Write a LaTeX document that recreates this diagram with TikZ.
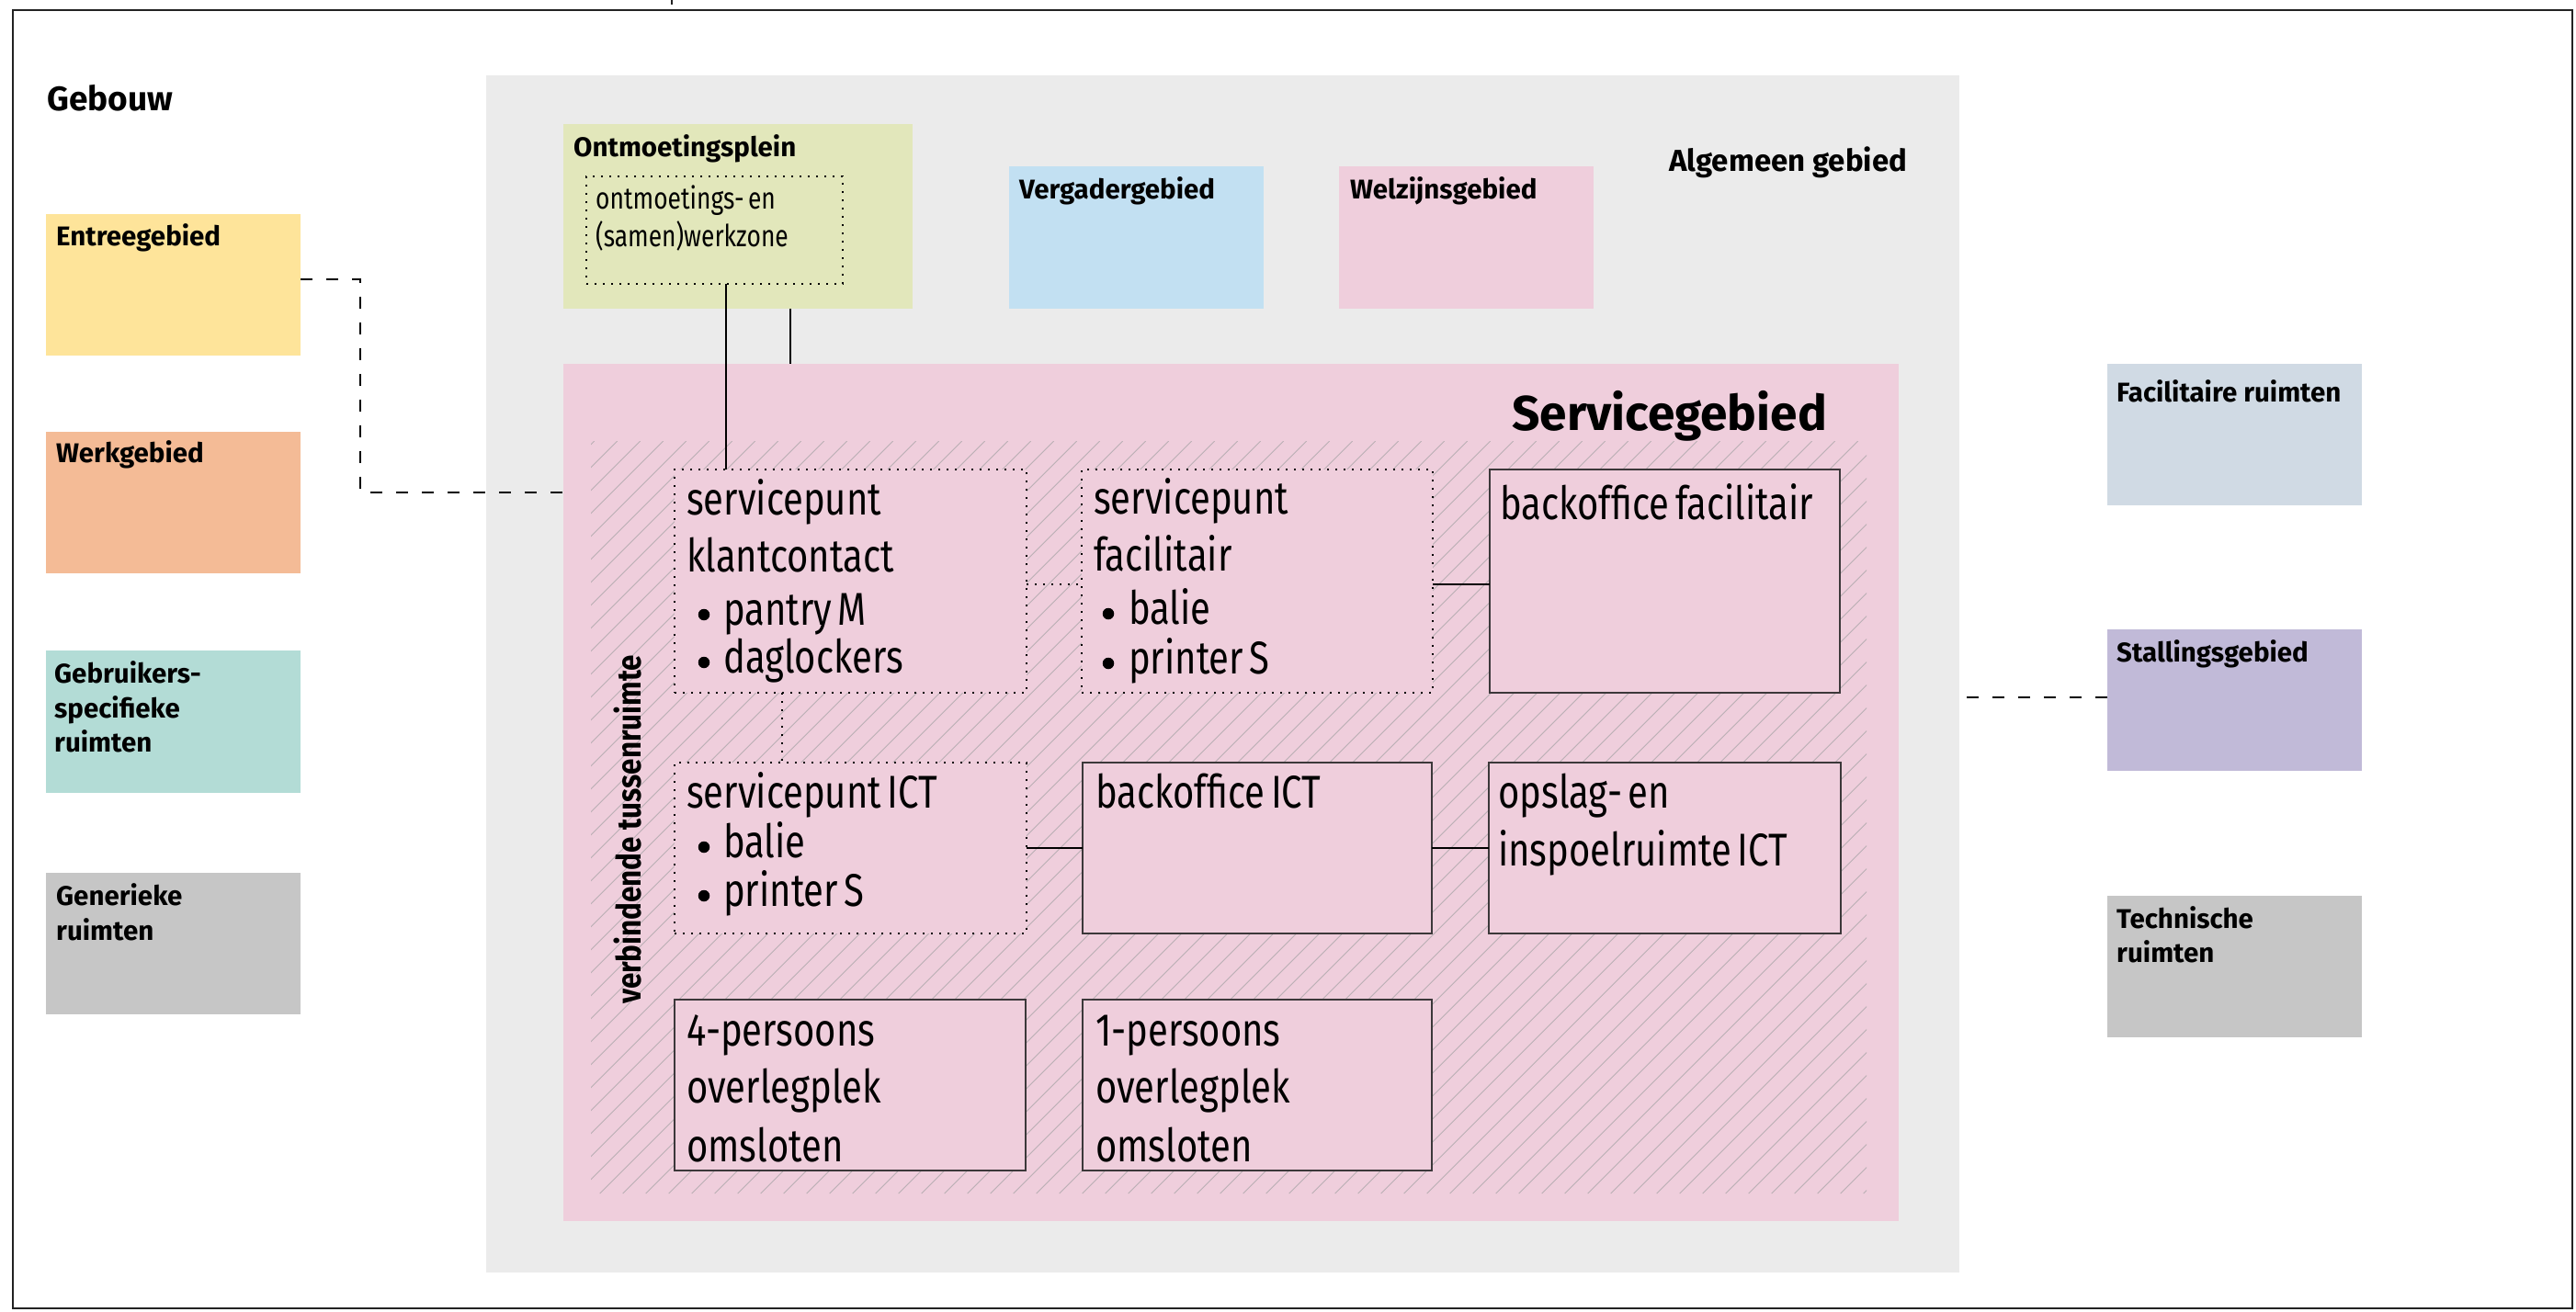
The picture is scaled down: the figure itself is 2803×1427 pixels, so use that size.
\documentclass[tikz,border=0pt]{standalone}
\usepackage{fontspec}
\setmainfont{Fira Sans}
\newfontfamily\lt{Fira Sans}[FakeStretch=0.80, WordSpace=0.62]
\newfontfamily\bc{Fira Sans Bold}[FakeStretch=0.86]
\definecolor{framec}{RGB}{34,34,34}
\definecolor{grayarea}{RGB}{235,235,235}
\definecolor{pinkc}{RGB}{239,206,220}
\definecolor{pleinc}{RGB}{226,231,187}
\definecolor{vergc}{RGB}{194,224,242}
\definecolor{entreec}{RGB}{254,228,154}
\definecolor{werkc}{RGB}{244,187,150}
\definecolor{gebrc}{RGB}{179,220,214}
\definecolor{generc}{RGB}{198,198,198}
\definecolor{facrc}{RGB}{208,218,228}
\definecolor{stallc}{RGB}{193,186,216}
\definecolor{boxline}{RGB}{60,56,58}
\definecolor{hatchc}{RGB}{186,174,180}
\begin{document}
\begin{tikzpicture}[x=1pt,y=-1pt,
  area/.style={inner sep=0pt, outer sep=0pt, anchor=north west, draw=none},
  room/.style={area, draw=boxline, line width=1.6pt, fill=pinkc},
  dotroom/.style={area, draw=black, line width=2.4pt, dash pattern=on 2.4pt off 6.6pt},
  conn/.style={line width=2pt, draw=black},
  dotconn/.style={line width=2.4pt, draw=black, dash pattern=on 2.4pt off 6.6pt},
  dashconn/.style={line width=2.4pt, draw=black, dash pattern=on 13pt off 15pt},
  lab/.style={anchor=base west, inner sep=0pt, font=\fontsize{29.5}{35}\selectfont\bfseries},
  big/.style={anchor=base west, inner sep=0pt, font=\fontsize{50}{60}\selectfont\lt},
  small/.style={anchor=base west, inner sep=0pt, font=\fontsize{33}{40}\selectfont\lt},
  bul/.style={circle, fill=black, inner sep=0pt, minimum size=12.5pt},
  hatchline/.style={line width=1pt, draw=hatchc}]
\useasboundingbox (0,0) rectangle (2803,1427);
\fill[white] (0,0) rectangle (2803,1427);
% outer frame
\node[area, draw=framec, line width=2.6pt, minimum width=2785pt, minimum height=1413pt] (gebouw) at (14,11) {};
\draw[line width=1.5pt, draw=framec] (731,0) -- (731,5);
% left column
\node[area, fill=entreec, minimum width=277pt, minimum height=154pt] (entree) at (50,233) {};
\node[area, fill=werkc, minimum width=277pt, minimum height=154pt] (werk) at (50,470) {};
\node[area, fill=gebrc, minimum width=277pt, minimum height=155pt] (gebr) at (50,708) {};
\node[area, fill=generc, minimum width=277pt, minimum height=154pt] (gener) at (50,950) {};
% right column
\node[area, fill=facrc, minimum width=277pt, minimum height=154pt] (facr) at (2293,396) {};
\node[area, fill=stallc, minimum width=277pt, minimum height=154pt] (stall) at (2293,685) {};
\node[area, fill=generc, minimum width=277pt, minimum height=154pt] (tech) at (2293,975) {};
% general area
\node[area, fill=grayarea, minimum width=1603pt, minimum height=1303pt] (alg) at (529,82) {};
\node[area, fill=pleinc, minimum width=380pt, minimum height=201pt] (plein) at (613,135) {};
\node[dotroom, minimum width=279pt, minimum height=117pt] (ozone) at (638,192) {};
\node[area, fill=vergc, minimum width=277pt, minimum height=155pt] (verg) at (1098,181) {};
\node[area, fill=pinkc, minimum width=277pt, minimum height=155pt] (welz) at (1457,181) {};
% service area
\node[area, fill=pinkc, minimum width=1453pt, minimum height=933pt] (serv) at (613,396) {};
\begin{scope}
\clip (643,480) rectangle (2031,1299);
\foreach \k in {0,...,90} \draw[hatchline] ({-197.3+\k*25},1299) -- ++(819,-819);
\end{scope}
\node[dotroom, fill=pinkc, minimum width=383pt, minimum height=243pt] (kc) at (734,511) {};
\node[dotroom, fill=pinkc, minimum width=382pt, minimum height=243pt] (fac) at (1177,511) {};
\node[room, minimum width=381pt, minimum height=243pt] (bof) at (1621,511) {};
\node[dotroom, fill=pinkc, minimum width=383pt, minimum height=186pt] (ict) at (734,830) {};
\node[room, minimum width=380pt, minimum height=186pt] (boict) at (1178,830) {};
\node[room, minimum width=383pt, minimum height=186pt] (ops) at (1620,830) {};
\node[room, minimum width=382pt, minimum height=186pt] (pfour) at (734,1088) {};
\node[room, minimum width=380pt, minimum height=186pt] (pone) at (1178,1088) {};
% connectors
\draw[conn] ([xshift=12.5pt]ozone.south) -- ([xshift=12.5pt]ozone.south |- kc.north);
\draw[conn] ([xshift=57pt]plein.south) -- ([xshift=57pt]plein.south |- serv.north);
\draw[dotconn] ([yshift=-3.5pt]kc.east) -- ([yshift=-3.5pt]kc.east -| fac.west);
\draw[conn] ([yshift=-3.5pt]fac.east) -- ([yshift=-3.5pt]fac.east -| bof.west);
\draw[dotconn] ([xshift=-74.5pt]kc.south) -- ([xshift=-74.5pt]kc.south |- ict.north);
\draw[conn] (ict.east) -- (boict.west);
\draw[conn] (boict.east) -- (ops.west);
\draw[dashconn] ([yshift=6pt]entree.east) -- ++(65,0) |- ([yshift=326.5pt]serv.west);
\draw[dashconn] ([yshift=3pt]stall.west) -- ([yshift=3pt]stall.west -| alg.east);
% labels
\node[lab, font=\fontsize{37}{40}\selectfont\bfseries] (tgebouw) at (51,120) {Gebouw};
\node[lab] (tentree) at (61,267) {Entreegebied};
\node[lab] (twerk) at (61,503) {Werkgebied};
\node[lab] (tgebr1) at (59,743) {Gebruikers-};
\node[lab] (tgebr2) at (59,781) {specifieke};
\node[lab] (tgebr3) at (59,818) {ruimten};
\node[lab] (tgener1) at (61,985) {Generieke};
\node[lab] (tgener2) at (61,1023) {ruimten};
\node[lab] (tfacr) at (2303,437) {Facilitaire ruimten};
\node[lab] (tstall) at (2303,720) {Stallingsgebied};
\node[lab] (ttech1) at (2303,1010) {Technische};
\node[lab] (ttech2) at (2303,1047) {ruimten};
\node[lab] (tplein) at (624,170) {Ontmoetingsplein};
\node[lab] (tverg) at (1109,216) {Vergadergebied};
\node[lab] (twelz) at (1469,216) {Welzijnsgebied};
\node[lab, font=\fontsize{33}{38}\selectfont\bfseries] (talg) at (1816,186) {Algemeen gebied};
\node[lab, font=\fontsize{53.2}{60}\selectfont\bfseries] (tserv) at (1645,468) {Servicegebied};
\node[small] (tozone1) at (648,227) {ontmoetings- en};
\node[small] (tozone2) at (648,268) {(samen)werkzone};
\node[anchor=base west, inner sep=0pt, rotate=90, font=\fontsize{36.5}{40}\selectfont\bc] (tverb) at (697,1093) {verbindende tussenruimte};
% room texts
\node[big] (tkc1) at (747,560) {servicepunt};
\node[big] (tkc2) at (747,622) {klantcontact};
\node[bul] (bkc1) at (766,669) {};
\node[big] (tkc3) at (787,680) {pantry M};
\node[bul] (bkc2) at (766,721) {};
\node[big] (tkc4) at (787,732) {daglockers};
\node[big] (tfac1) at (1190,559) {servicepunt};
\node[big] (tfac2) at (1190,621) {facilitair};
\node[bul] (bfac1) at (1206,668) {};
\node[big] (tfac3) at (1228,679) {balie};
\node[bul] (bfac2) at (1206,722) {};
\node[big] (tfac4) at (1228,733) {printer S};
\node[big] (tbof) at (1632,565) {backoffice facilitair};
\node[big] (tict1) at (747,879) {servicepunt ICT};
\node[bul] (bict1) at (766,922) {};
\node[big] (tict2) at (787,933) {balie};
\node[bul] (bict2) at (766,975) {};
\node[big] (tict3) at (787,986) {printer S};
\node[big] (tboict) at (1192,879) {backoffice ICT};
\node[big] (tops1) at (1630,879) {opslag- en};
\node[big] (tops2) at (1630,942) {inspoelruimte ICT};
\node[big] (tpf1) at (747,1138) {4-persoons};
\node[big] (tpf2) at (747,1200) {overlegplek};
\node[big] (tpf3) at (747,1264) {omsloten};
\node[big] (tpo1) at (1192,1138) {1-persoons};
\node[big] (tpo2) at (1192,1200) {overlegplek};
\node[big] (tpo3) at (1192,1264) {omsloten};
\end{tikzpicture}
\end{document}
